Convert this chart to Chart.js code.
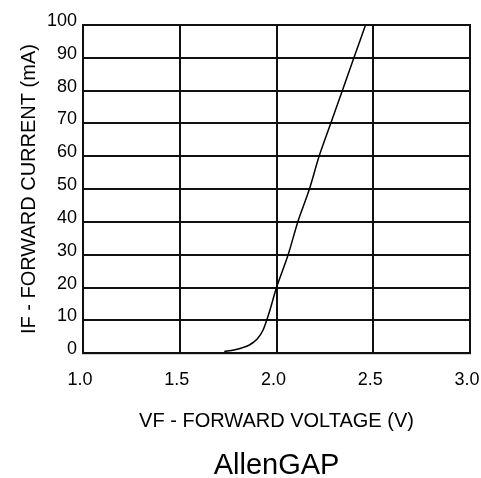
<!DOCTYPE html>
<html>
<head>
<meta charset="utf-8">
<script src="https://cdn.jsdelivr.net/npm/chart.js@4"></script>
<style>
  html, body { margin: 0; padding: 0; background: #fff; }
  #wrap { width: 481px; height: 478px; }
</style>
</head>
<body>
<div id="wrap"><canvas id="iv-curve"></canvas></div>
<script>
    "use strict";

    // Forward voltage (V) vs forward current (mA)
    var voltage = [1.73, 1.78, 1.82, 1.86, 1.90, 1.93, 1.96, 2.00, 2.06, 2.11, 2.17, 2.22, 2.28, 2.34, 2.40, 2.46];
    var current = [0.5, 1.0, 1.6, 2.5, 4.3, 7, 12, 20, 30, 40, 50, 60, 70, 80, 90, 100];
    var xTicks = [1.0, 1.5, 2.0, 2.5, 3.0];
    var yTicks = [0, 10, 20, 30, 40, 50, 60, 70, 80, 90, 100];

    var points = voltage.map(function (v, i) {
        return {x: v, y: current[i]};
    });

    var tickFont = {family: "Liberation Sans, Arial, sans-serif", size: 18};
    var titleFont = {family: "Liberation Sans, Arial, sans-serif", size: 20};

    // labels may hang over the plot edges without shrinking it
    var noEdgePadding = function (axis) {
        axis.paddingLeft = 0;
        axis.paddingRight = 0;
        axis.paddingTop = 0;
        axis.paddingBottom = 0;
    };

    var ctx = document.getElementById("iv-curve").getContext("2d");
    var myChart = new Chart(ctx, {
        type: "line",
        data: {
            datasets: [{
                data: points,
                borderColor: "#000",
                borderWidth: 1.5,
                pointRadius: 0,
                fill: false,
                cubicInterpolationMode: "monotone"
            }]
        },
        options: {
            responsive: true,
            maintainAspectRatio: false,
            animation: false,
            layout: {padding: {left: 17, right: 11, top: 25, bottom: 0}},
            plugins: {
                legend: {display: false},
                tooltip: {enabled: false},
                title: {
                    display: true,
                    position: "bottom",
                    fullSize: false,
                    text: "AllenGAP",
                    color: "#000",
                    font: {family: "Liberation Sans, Arial, sans-serif", size: 29, weight: "normal", lineHeight: 0.8},
                    padding: {top: 0, bottom: 0}
                }
            },
            scales: {
                x: {
                    type: "linear",
                    min: xTicks[0],
                    max: xTicks[xTicks.length - 1],
                    afterBuildTicks: function (axis) {
                        axis.ticks = xTicks.map(function (v) { return {value: v}; });
                    },
                    afterFit: noEdgePadding,
                    ticks: {
                        color: "#000",
                        font: tickFont,
                        padding: 16,
                        labelOffset: -3,
                        callback: function (v) { return Number(v).toFixed(1); }
                    },
                    grid: {color: "#111", lineWidth: 2, drawTicks: false},
                    border: {color: "#111", width: 2},
                    title: {
                        display: true,
                        text: "VF - FORWARD VOLTAGE (V)",
                        color: "#000",
                        font: titleFont,
                        padding: {top: 3, bottom: 21}
                    }
                },
                y: {
                    min: yTicks[0],
                    max: yTicks[yTicks.length - 1],
                    afterBuildTicks: function (axis) {
                        axis.ticks = yTicks.map(function (v) { return {value: v}; });
                    },
                    afterFit: noEdgePadding,
                    ticks: {
                        color: "#000",
                        font: tickFont,
                        padding: 6,
                        labelOffset: -4
                    },
                    grid: {color: "#111", lineWidth: 2, drawTicks: false},
                    border: {color: "#111", width: 2},
                    title: {
                        display: true,
                        text: "IF - FORWARD CURRENT (mA)",
                        color: "#000",
                        font: titleFont,
                        padding: {top: 0, bottom: 0}
                    }
                }
            }
        },
        plugins: [{
            id: "frame",
            afterDraw: function (chart) {
                var a = chart.chartArea, c = chart.ctx;
                c.save();
                c.strokeStyle = "#111";
                c.lineWidth = 2;
                c.strokeRect(a.left, a.top, a.right - a.left, a.bottom - a.top);
                c.restore();
            }
        }]
    });
</script>
</body>
</html>
